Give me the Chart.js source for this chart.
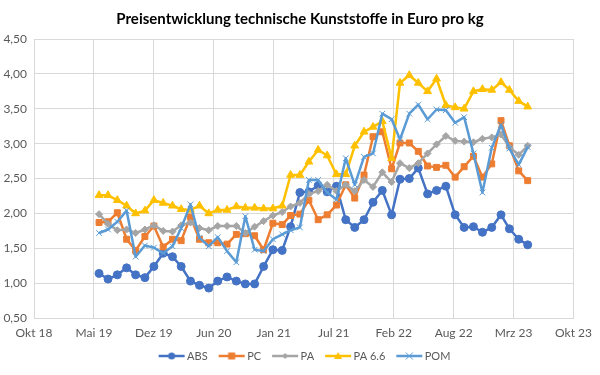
<!DOCTYPE html>
<html>
<head>
<meta charset="utf-8">
<script src="https://cdn.jsdelivr.net/npm/chart.js@4/dist/chart.umd.min.js"></script>
<style>
  html, body { margin: 0; padding: 0; background: #fff; }
  #wrap { width: 600px; height: 375px; }
</style>
</head>
<body>
<div id="wrap"><canvas id="priceChart" width="600" height="375"></canvas></div>
<script>
// Monatswerte (jeweils Monatsanfang)
const months = [
  '2019-06','2019-07','2019-08','2019-09','2019-10','2019-11','2019-12',
  '2020-01','2020-02','2020-03','2020-04','2020-05','2020-06','2020-07','2020-08','2020-09','2020-10','2020-11','2020-12',
  '2021-01','2021-02','2021-03','2021-04','2021-05','2021-06','2021-07','2021-08','2021-09','2021-10','2021-11','2021-12',
  '2022-01','2022-02','2022-03','2022-04','2022-05','2022-06','2022-07','2022-08','2022-09','2022-10','2022-11','2022-12',
  '2023-01','2023-02','2023-03','2023-04','2023-05'
];

const absValues  = [1.14,1.06,1.12,1.22,1.12,1.08,1.24,1.43,1.38,1.24,1.03,0.97,0.93,1.03,1.09,1.03,0.99,0.99,1.24,1.48,1.47,1.81,2.30,2.31,2.40,2.31,2.39,1.91,1.80,1.91,2.16,2.33,1.98,2.49,2.50,2.65,2.28,2.33,2.39,1.98,1.80,1.81,1.73,1.80,1.98,1.78,1.63,1.55];
const pcValues   = [1.87,1.88,2.01,1.63,1.47,1.67,1.82,1.52,1.63,1.61,1.95,1.63,1.58,1.58,1.56,1.70,1.71,1.68,1.48,1.86,1.84,1.97,1.99,2.19,1.91,1.98,2.12,2.41,2.22,2.55,3.10,3.17,2.64,3.01,3.01,2.89,2.68,2.66,2.69,2.52,2.67,2.82,2.52,2.71,3.33,2.97,2.61,2.47];
const paValues   = [1.99,1.85,1.76,1.77,1.72,1.77,1.83,1.75,1.74,1.83,1.87,1.79,1.76,1.82,1.82,1.82,1.72,1.81,1.89,1.97,2.02,2.10,2.15,2.28,2.32,2.41,2.32,2.41,2.32,2.48,2.38,2.59,2.45,2.72,2.65,2.72,2.86,2.99,3.11,3.04,3.03,3.02,3.07,3.09,3.13,2.95,2.84,2.97];
const pa66Values = [2.26,2.26,2.19,2.11,2.00,2.04,2.19,2.15,2.11,2.06,2.05,2.11,2.00,2.05,2.05,2.10,2.08,2.08,2.07,2.07,2.11,2.55,2.55,2.74,2.91,2.83,2.56,2.56,2.97,3.17,3.24,3.32,2.79,3.87,3.98,3.87,3.75,3.93,3.55,3.52,3.50,3.75,3.78,3.77,3.88,3.77,3.61,3.53];
const pomValues  = [1.72,1.77,1.88,2.04,1.38,1.54,1.51,1.43,1.53,1.79,2.13,1.65,1.53,1.66,1.46,1.30,1.96,1.48,1.46,1.63,1.70,1.76,1.80,2.48,2.48,2.30,2.20,2.79,2.41,2.81,2.86,3.43,3.35,3.06,3.43,3.56,3.35,3.49,3.48,3.30,3.38,2.86,2.30,2.94,3.27,2.93,2.70,2.95];

// Achse wie in Excel: Seriennummern, Hauptintervall 200 Tage
const xMin = 43400, xMax = 45200, xStep = 200;
const yMin = 0.5, yMax = 4.5, yStep = 0.5;
const monthNames = ['Jan','Feb','Mrz','Apr','Mai','Jun','Jul','Aug','Sep','Okt','Nov','Dez'];

function toSerial(ym) {
    const [y, m] = ym.split('-').map(Number);
    return Date.UTC(y, m - 1, 1) / 864e5 + 25569;
}
function serialLabel(v) {
    const d = new Date((v - 25569) * 864e5);
    return monthNames[d.getUTCMonth()] + ' ' + String(d.getUTCFullYear()).slice(2);
}
function toPoints(values) {
    return values.map((v, i) => ({ x: toSerial(months[i]), y: v }));
}

// Legendenbild: Linie mit Marker, links transparent als Abstand
const boxW = 32, iconW = boxW + 8, fontPx = 11;
function legendIcon(color, style) {
    const c = document.createElement('canvas');
    c.width = iconW; c.height = 12;
    const g = c.getContext('2d');
    g.strokeStyle = color;
    g.fillStyle = color;
    g.lineWidth = 2.5;
    g.beginPath(); g.moveTo(iconW - 27, 6); g.lineTo(iconW - 1, 6); g.stroke();
    const cx = iconW - 14, cy = 6;
    g.lineWidth = 1;
    g.beginPath();
    if (style === 'circle') {
        g.arc(cx, cy, 3.5, 0, Math.PI * 2); g.fill();
    } else if (style === 'rect') {
        g.fillRect(cx - 3.5, cy - 3.5, 7, 7);
    } else if (style === 'rectRot') {
        g.moveTo(cx, cy - 3); g.lineTo(cx + 3, cy); g.lineTo(cx, cy + 3); g.lineTo(cx - 3, cy); g.closePath(); g.fill();
    } else if (style === 'triangle') {
        g.moveTo(cx, cy - 4); g.lineTo(cx + 4, cy + 3); g.lineTo(cx - 4, cy + 3); g.closePath(); g.fill();
    } else {
        g.moveTo(cx - 3.5, cy - 3.5); g.lineTo(cx + 3.5, cy + 3.5);
        g.moveTo(cx + 3.5, cy - 3.5); g.lineTo(cx - 3.5, cy + 3.5); g.stroke();
    }
    return c;
}

const seriesDefs = [
    { label: 'ABS',    data: absValues,  color: '#4472C4', style: 'circle',   radius: 4 },
    { label: 'PC',     data: pcValues,   color: '#ED7D31', style: 'rect',     radius: 4.2 },
    { label: 'PA',     data: paValues,   color: '#A5A5A5', style: 'rectRot',  radius: 3.5 },
    { label: 'PA 6.6', data: pa66Values, color: '#FFC000', style: 'triangle', radius: 4.5 },
    { label: 'POM',    data: pomValues,  color: '#5B9BD5', style: 'crossRot', radius: 4 }
];

const datasets = seriesDefs.map((s, i) => ({
    label: s.label,
    data: toPoints(s.data),
    yAxisID: 'y',
    borderColor: s.color,
    backgroundColor: s.color,
    borderWidth: 2.5,
    pointStyle: s.style,
    pointRadius: s.radius,
    pointBorderWidth: 1,
    pointBackgroundColor: s.color,
    pointBorderColor: s.color,
    borderJoinStyle: 'round',
    order: seriesDefs.length - i,
    icon: legendIcon(s.color, s.style)
}));

const tickColor = '#595959';
const gridColor = '#D9D9D9';
const font = 'Lato';

new Chart(document.getElementById('priceChart'), {
    type: 'line',
    data: { datasets: datasets },
    options: {
        responsive: false,
        animation: false,
        events: [],
        layout: { padding: { left: 0, right: 0, top: 0, bottom: 3.5 } },
        plugins: {
            title: {
                display: true,
                text: 'Preisentwicklung technische Kunststoffe in Euro pro kg',
                color: '#000',
                font: { family: font, size: 15, weight: 'bold' },
                padding: { top: 10, bottom: 11 }
            },
            legend: {
                position: 'bottom',
                labels: {
                    usePointStyle: true,
                    pointStyleWidth: boxW,
                    padding: 2,
                    color: tickColor,
                    font: { family: font, size: fontPx },
                    generateLabels(chart) {
                        return chart.data.datasets.map((ds, i) => ({
                            text: ds.label,
                            pointStyle: ds.icon,
                            fontColor: tickColor,
                            lineWidth: 0,
                            strokeStyle: 'transparent',
                            fillStyle: 'transparent',
                            hidden: false,
                            datasetIndex: i
                        }));
                    }
                }
            },
            tooltip: { enabled: false }
        },
        scales: {
            x: {
                type: 'linear',
                min: xMin,
                max: xMax,
                afterBuildTicks(scale) {
                    const t = [];
                    for (let v = xMin; v <= xMax; v += xStep) t.push({ value: v });
                    scale.ticks = t;
                },
                ticks: {
                    padding: 8,
                    color: tickColor,
                    font: { family: font, size: 12 },
                    maxRotation: 0,
                    autoSkip: false,
                    callback: v => serialLabel(v)
                },
                grid: { color: gridColor, drawTicks: false },
                border: { color: gridColor }
            },
            y: {
                min: yMin,
                max: yMax,
                afterFit(scale) { scale.width = 34; },
                ticks: {
                    stepSize: yStep,
                    padding: 7,
                    color: tickColor,
                    font: { family: font, size: 12 },
                    callback: v => v.toFixed(2).replace('.', ',')
                },
                grid: { color: gridColor, drawTicks: false },
                border: { color: gridColor }
            },
            // leerer Rand rechts, damit Titel und Legende mittig bleiben
            yRight: {
                position: 'right',
                min: yMin,
                max: yMax,
                afterFit(scale) { scale.width = 24; },
                ticks: { display: false },
                grid: { display: false, drawTicks: false },
                border: { display: false }
            }
        }
    }
});
</script>
</body>
</html>
